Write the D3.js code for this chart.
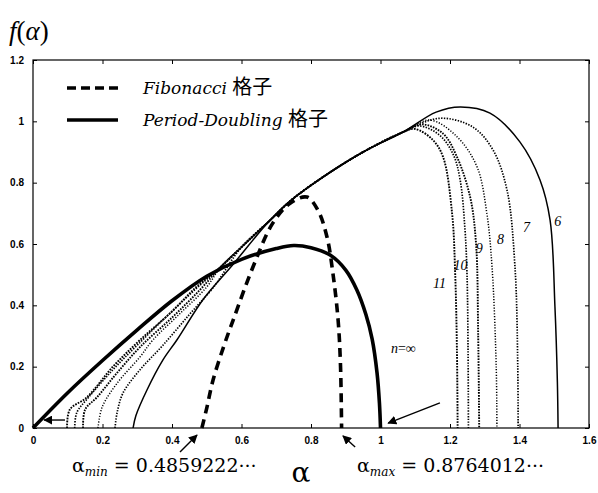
<!DOCTYPE html>
<html>
<head>
<meta charset="utf-8">
<script src="https://cdn.jsdelivr.net/npm/d3@7"></script>
<style>
  body { margin: 0; background: #fff; }
  svg { display: block; }
  .tick text { font-family: "Liberation Sans", Arial, sans-serif; font-size: 10px; font-weight: bold; }
</style>
</head>
<body>
<svg id="chart" width="598" height="493"></svg>
<script>
// axis ticks
var alphaTicks = [0, 0.2, 0.4, 0.6, 0.8, 1, 1.2, 1.4, 1.6];
var fTicks = [0, 0.2, 0.4, 0.6, 0.8, 1, 1.2];

// Period-Doubling lattice, n = infinity  [alpha, f]
var pdCurve = [[0,0],[0.1,0.115],[0.2,0.22],[0.3,0.32],[0.4,0.415],[0.5,0.495],[0.6,0.55],
  [0.7,0.585],[0.75,0.595],[0.8,0.588],[0.855,0.564],[0.9,0.515],[0.932,0.45],[0.958,0.37],
  [0.976,0.29],[0.99,0.18],[0.997,0.08],[1.0,0]];

// Fibonacci lattice
var fibCurve = [[0.486,0],[0.5,0.065],[0.518,0.156],[0.55,0.27],[0.576,0.352],[0.633,0.525],
  [0.69,0.668],[0.74,0.733],[0.788,0.753],[0.82,0.71],[0.846,0.623],[0.863,0.505],
  [0.878,0.352],[0.885,0.2],[0.888,0]];

// shared upper part of the finite-n curves
var envelope = [[0.54,0.525],[0.6,0.59],[0.68,0.675],[0.74,0.74],[0.83,0.815],[0.95,0.9],
  [1.065,0.965],[1.16,1.03]];

var genN = [6, 7, 8, 9, 10, 11];
var leftParts = {
  6: [[0.288,0],[0.296,0.04],[0.328,0.124],[0.374,0.222],[0.414,0.287],[0.49,0.42],[0.573,0.53]],
  7: [[0.236,0],[0.242,0.05],[0.259,0.114],[0.308,0.19],[0.374,0.27],[0.45,0.37],[0.52,0.46]],
  8: [[0.187,0],[0.199,0.068],[0.242,0.146],[0.308,0.232],[0.345,0.287],[0.42,0.37],[0.5,0.46]],
  9: [[0.144,0],[0.15,0.06],[0.184,0.1],[0.242,0.18],[0.308,0.264],[0.4,0.36],[0.48,0.45]],
  10: [[0.12,0],[0.126,0.05],[0.16,0.1],[0.23,0.19],[0.3,0.27],[0.39,0.37],[0.47,0.455]],
  11: [[0.098,0],[0.106,0.06],[0.155,0.1],[0.23,0.2],[0.308,0.287],[0.4,0.38],[0.47,0.46]]
};
var rightParts = {
  6: [[1.229,1.047],[1.315,1.027],[1.401,0.933],[1.459,0.809],[1.488,0.678],[1.502,0.395],[1.509,0.15],[1.511,0]],
  7: [[1.171,1.01],[1.266,0.981],[1.324,0.906],[1.364,0.776],[1.387,0.525],[1.395,0.2],[1.396,0]],
  8: [[1.142,1.004],[1.22,0.95],[1.278,0.851],[1.306,0.7],[1.321,0.525],[1.333,0.2],[1.335,0]],
  9: [[1.12,0.99],[1.18,0.96],[1.22,0.884],[1.258,0.753],[1.275,0.6],[1.281,0.31],[1.284,0]],
  10: [[1.11,0.985],[1.17,0.955],[1.21,0.89],[1.229,0.81],[1.243,0.65],[1.249,0.5],[1.252,0.25],[1.253,0]],
  11: [[1.1,0.975],[1.15,0.94],[1.18,0.884],[1.206,0.7],[1.215,0.5],[1.22,0.25],[1.222,0]]
};
// curve labels [alpha, f]
var nLabelPos = {6: [1.51,0.66], 7: [1.42,0.64], 8: [1.345,0.6], 9: [1.284,0.57], 10: [1.23,0.515], 11: [1.17,0.455]};

var svg = d3.select("#chart");
var x = d3.scaleLinear().domain([0, 1.6]).range([33, 589]);
var y = d3.scaleLinear().domain([0, 1.2]).range([428, 60]);

var line = d3.line()
    .x(function(d) { return x(d[0]); })
    .y(function(d) { return y(d[1]); })
    .curve(d3.curveCatmullRom.alpha(0.5));

// axes, ticks inward
svg.append("g")
    .attr("transform", "translate(0," + y(0) + ")")
    .call(d3.axisBottom(x).tickValues(alphaTicks).tickSize(-4).tickPadding(9).tickFormat(d3.format("~g")));
svg.append("g")
    .attr("transform", "translate(" + x(0) + ",0)")
    .call(d3.axisLeft(y).tickValues(fTicks).tickSize(-4).tickPadding(9).tickFormat(d3.format("~g")));
svg.append("g")
    .attr("transform", "translate(0," + y(1.2) + ")")
    .call(d3.axisTop(x).tickValues(alphaTicks).tickSize(-4).tickFormat(""));
svg.append("g")
    .attr("transform", "translate(" + x(1.6) + ",0)")
    .call(d3.axisRight(y).tickValues(fTicks).tickSize(-4).tickFormat(""));
svg.selectAll(".domain").remove();
svg.append("rect")
    .attr("x", x(0)).attr("y", y(1.2))
    .attr("width", x(1.6) - x(0)).attr("height", y(0) - y(1.2))
    .attr("fill", "none").attr("stroke", "#000").attr("stroke-width", 1.2);

// finite n curves
var nStyle = {6: ["none", 1.5], 7: ["1.4,1.4", 1.7], 8: ["1.2,1.6", 1.5], 9: ["1.6,1.2", 1.9], 10: ["1.4,1.4", 1.7], 11: ["1.7,1.2", 1.9]};
genN.forEach(function(n) {
  var L = leftParts[n], R = rightParts[n];
  var mid = envelope.filter(function(p) { return p[0] > L[L.length-1][0] + 0.03 && p[0] < R[0][0] - 0.03; });
  var pts = L.concat(mid, R);
  svg.append("path")
      .attr("d", line(pts))
      .attr("fill", "none")
      .attr("stroke", "#000")
      .attr("stroke-width", nStyle[n][1])
      .attr("stroke-dasharray", nStyle[n][0]);
  svg.append("text")
      .attr("x", x(nLabelPos[n][0]))
      .attr("y", y(nLabelPos[n][1]))
      .attr("font-family", "Liberation Serif, serif")
      .attr("font-style", "italic")
      .attr("font-size", 14)
      .attr("text-anchor", "middle")
      .text(n);
});

// Fibonacci (dashed) and Period-Doubling (solid)
svg.append("path")
    .attr("d", line(fibCurve))
    .attr("fill", "none").attr("stroke", "#000")
    .attr("stroke-width", 3.6).attr("stroke-dasharray", "9,6");
svg.append("path")
    .attr("d", line(pdCurve))
    .attr("fill", "none").attr("stroke", "#000")
    .attr("stroke-width", 3.6);

var nInf = svg.append("text")
    .attr("x", x(1.03)).attr("y", y(0.245))
    .attr("font-family", "Liberation Serif, serif")
    .attr("font-size", 14);
nInf.append("tspan").attr("font-style", "italic").text("n");
nInf.append("tspan").text("=∞");

// legend
var legend = [
  {label: "Fibonacci", dash: "9,5", y: 88},
  {label: "Period-Doubling", dash: "none", y: 120}
];
legend.forEach(function(d) {
  svg.append("line")
      .attr("x1", 67).attr("x2", 118)
      .attr("y1", d.y).attr("y2", d.y)
      .attr("stroke", "#000").attr("stroke-width", 3.6)
      .attr("stroke-dasharray", d.dash);
  var t = svg.append("text")
      .attr("x", 143).attr("y", d.y + 6)
      .attr("font-size", 17);
  t.append("tspan")
      .attr("font-family", "DejaVu Serif, serif")
      .attr("font-style", "italic")
      .text(d.label + " ");
  t.append("tspan")
      .attr("font-family", "Noto Sans CJK SC, sans-serif")
      .attr("font-size", 20)
      .text("格子");
});

// axis titles
var fl = svg.append("text")
    .attr("x", 9).attr("y", 40)
    .attr("font-family", "Liberation Serif, serif")
    .attr("font-size", 27);
fl.append("tspan").attr("font-style", "italic").text("f");
fl.append("tspan").text("(");
fl.append("tspan").attr("font-style", "italic").text("α");
fl.append("tspan").text(")");

svg.append("text")
    .attr("x", 301).attr("y", 482)
    .attr("text-anchor", "middle")
    .attr("font-family", "DejaVu Serif, serif")
    .attr("font-size", 28)
    .text("α");

// alpha_min / alpha_max annotations
var notes = [
  {sub: "min", value: "0.4859222···", x: 72},
  {sub: "max", value: "0.8764012···", x: 357}
];
notes.forEach(function(d) {
  var t = svg.append("text")
      .attr("x", d.x).attr("y", 472)
      .attr("font-family", "DejaVu Serif, serif")
      .attr("font-size", 19);
  t.append("tspan").text("α");
  t.append("tspan").attr("font-size", 12).attr("font-style", "italic").attr("dy", 4).text(d.sub);
  t.append("tspan").attr("dy", -4).text(" = " + d.value);
});

// arrows [alpha tail, f tail, alpha head, f head]
var arrows = [
  [0.423, -0.078, 0.472, -0.023],
  [0.927, -0.062, 0.892, -0.026],
  [1.171, 0.082, 1.022, 0.016],
  [0.092, 0.026, 0.032, 0.026]
];
svg.append("defs").append("marker")
    .attr("id", "head")
    .attr("viewBox", "0 0 10 10")
    .attr("refX", 9).attr("refY", 5)
    .attr("markerWidth", 9).attr("markerHeight", 9)
    .attr("markerUnits", "userSpaceOnUse")
    .attr("orient", "auto")
  .append("path")
    .attr("d", "M0,0L10,5L0,10z")
    .attr("fill", "#000");
svg.selectAll(".arrow")
    .data(arrows)
  .enter().append("line")
    .attr("class", "arrow")
    .attr("x1", function(d) { return x(d[0]); })
    .attr("y1", function(d) { return y(d[1]); })
    .attr("x2", function(d) { return x(d[2]); })
    .attr("y2", function(d) { return y(d[3]); })
    .attr("stroke", "#000").attr("stroke-width", 1.4)
    .attr("marker-end", "url(#head)");
</script>
</body>
</html>
